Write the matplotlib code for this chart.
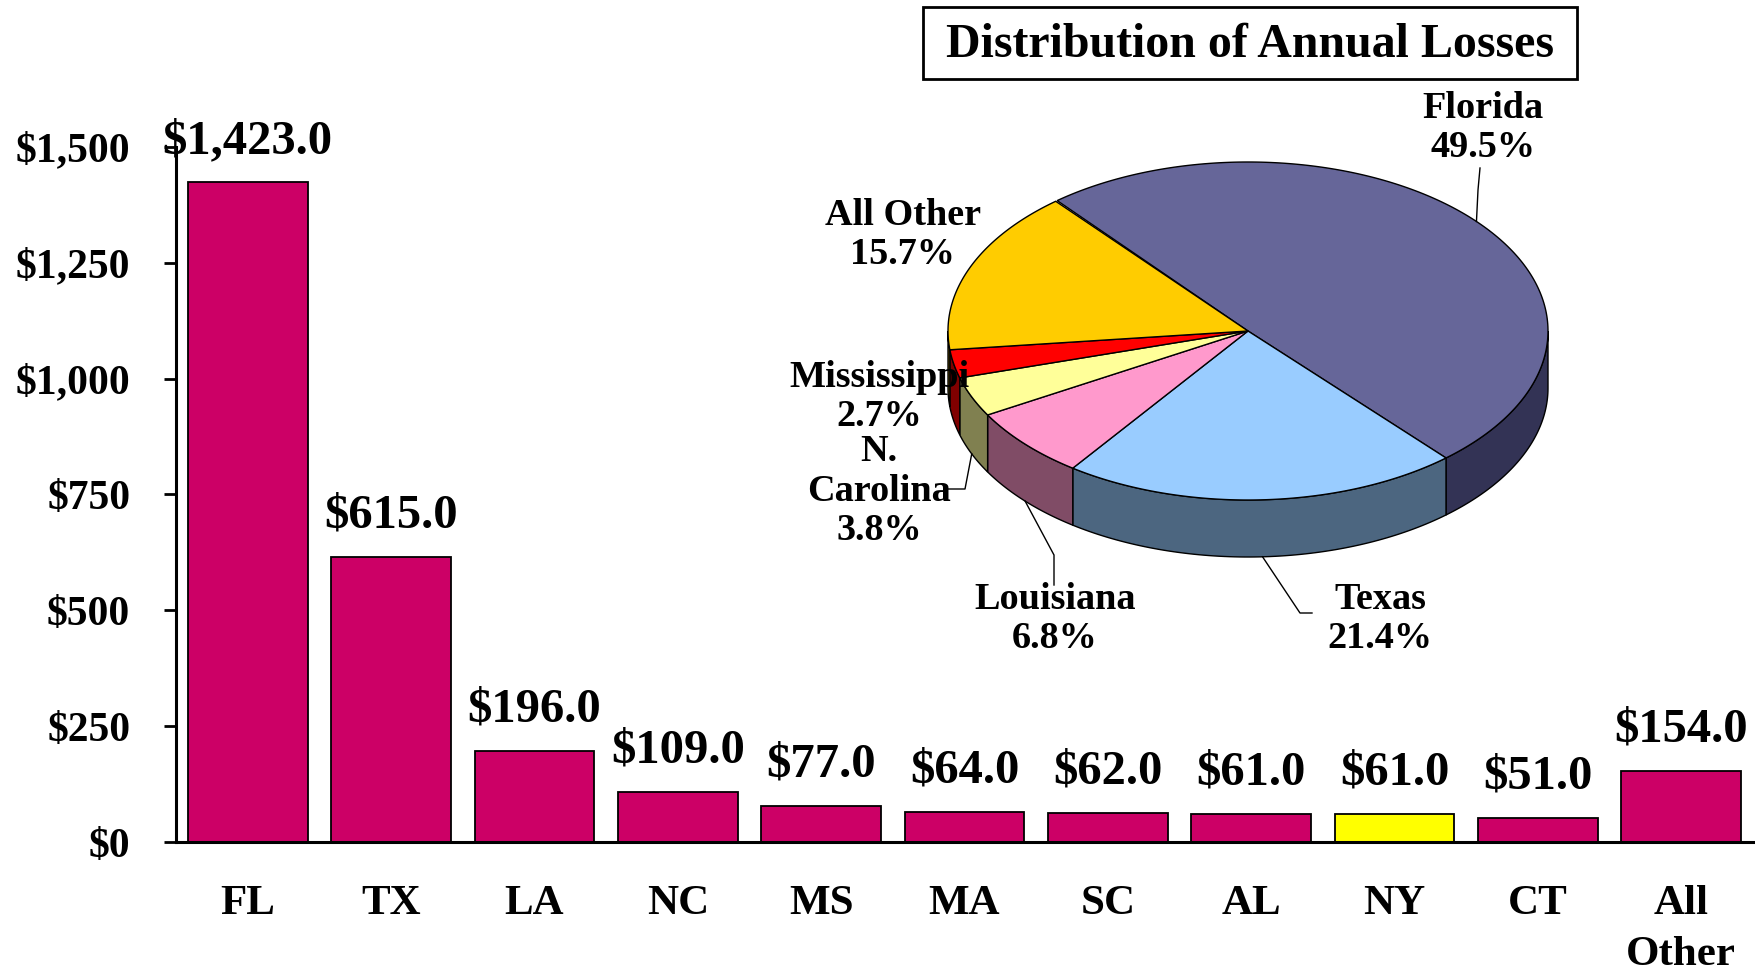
import matplotlib.pyplot as plt
import matplotlib.patches as mpatches
import numpy as np

# %%
states = ['FL', 'TX', 'LA', 'NC', 'MS', 'MA', 'SC', 'AL', 'NY', 'CT', 'All\nOther']
losses = [1423.0, 615.0, 196.0, 109.0, 77.0, 64.0, 62.0, 61.0, 61.0, 51.0, 154.0]
yticks = [0, 250, 500, 750, 1000, 1250, 1500]

pie_names = ['Florida', 'Texas', 'Louisiana', 'N.\nCarolina', 'Mississippi', 'All Other']
pie_shares = [49.5, 21.4, 6.8, 3.8, 2.7, 15.7]

# %%
plt.rcParams['font.family'] = ['Liberation Serif', 'DejaVu Serif']
plt.rcParams['font.weight'] = 'bold'

fig = plt.figure(figsize=(17.55, 9.72), dpi=100)
ax = fig.add_axes([0.1003, 0.1337, 0.8985, 0.7153])

bar_colors = ['#FFFF00' if s == 'NY' else '#CC0066' for s in states]
x = np.arange(len(states))
ax.bar(x, losses, width=0.835, color=bar_colors, edgecolor='black', linewidth=1.3)
for xi, v in zip(x, losses):
    ax.annotate(f'${v:,.1f}', (xi, v), xytext=(0, 14), textcoords='offset points',
                ha='center', va='bottom', fontsize=35, fontweight='bold')

ax.set_xlim(-0.5, len(states) - 0.5)
ax.set_ylim(0, 1500)
ax.set_yticks(yticks, [f'${t:,}' for t in yticks])
ax.set_xticks(x, states)
ax.tick_params(axis='y', direction='out', length=9, width=2, pad=24, labelsize=30)
ax.tick_params(axis='x', length=0, pad=31, labelsize=31)
for lab in ax.get_xticklabels() + ax.get_yticklabels():
    lab.set_fontweight('bold')
    lab.set_linespacing(1.45)
ax.spines[['top', 'right']].set_visible(False)
ax.spines[['left', 'bottom']].set_linewidth(2.2)
ax.patch.set_alpha(0)

# %% inset 3D-style pie, drawn in figure pixel coords
pax = fig.add_axes([0, 0, 1, 1])
pax.set_xlim(0, 1755)
pax.set_ylim(972, 0)
pax.axis('off')

pax.add_patch(mpatches.Rectangle((923, 7), 654, 72, fill=False, edgecolor='black', linewidth=2))
pax.text(1250, 45, 'Distribution of Annual Losses', ha='center', va='center', fontsize=34.5, fontweight='bold')

cx, cy, rx, ry, depth = 1248, 331, 300, 169, 57
top_colors = ['#666699', '#99CCFF', '#FF99CC', '#FFFF99', '#FF0000', '#FFCC00']
side_colors = ['#333355', '#4C6680', '#804C66', '#808050', '#800000', '#806600']

bounds = 129.5 - 3.6 * np.concatenate([[0], np.cumsum(pie_shares)])

def ell(t):
    t = np.radians(t)
    return cx + rx * np.cos(t), cy - ry * np.sin(t)

# side walls (front half only: angles between -180 and 0)
for k in range(len(pie_shares)):
    a_hi, a_lo = bounds[k], bounds[k + 1]
    lo, hi = max(a_lo, -180), min(a_hi, 0)
    if hi <= lo:
        continue
    t = np.linspace(lo, hi, 80)
    xs, ys = ell(t)
    poly = np.column_stack([np.concatenate([xs, xs[::-1]]), np.concatenate([ys, ys[::-1] + depth])])
    pax.add_patch(mpatches.Polygon(poly, closed=True, facecolor=side_colors[k], edgecolor='black', linewidth=1))

# top faces
for k in range(len(pie_shares)):
    t = np.linspace(bounds[k + 1], bounds[k], 200)
    xs, ys = ell(t)
    poly = np.column_stack([np.concatenate([[cx], xs]), np.concatenate([[cy], ys])])
    pax.add_patch(mpatches.Polygon(poly, closed=True, facecolor=top_colors[k], edgecolor='black', linewidth=1))

# labels
label_pos = [(1483, 128), (1380, 619), (1055, 619), (879, 491), (879, 397), (903, 235)]
for k, (name, share) in enumerate(zip(pie_names, pie_shares)):
    lx, ly = label_pos[k]
    pax.text(lx, ly, f'{name}\n{share}%', ha='center', va='center', fontsize=27.5,
             fontweight='bold', linespacing=1.15)

# leader lines
mid = (bounds[:-1] + bounds[1:]) / 2
fx, fy = ell(mid[0])
pax.plot([fx, 1478, 1480], [fy, 190, 168], color='black', lw=1)
tx, ty = ell(mid[1])
pax.plot([tx, 1300, 1312], [ty + depth, 613, 613], color='black', lw=1)
lx_, ly_ = ell(mid[2])
pax.plot([lx_, 1054, 1054], [ly_ + depth, 555, 585], color='black', lw=1)
nx, ny = ell(mid[3])
pax.plot([nx, 965, 945], [ny + depth, 489, 489], color='black', lw=1)

fig.savefig('out.png', dpi=100)
